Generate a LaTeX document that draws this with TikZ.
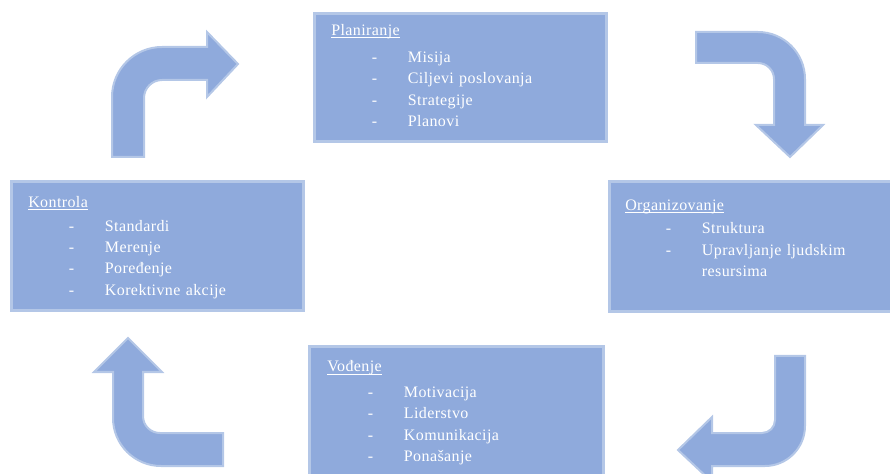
\documentclass[tikz,border=0pt]{standalone}
\usepackage{fontspec}
\setmainfont[LetterSpace=2.5]{Liberation Serif}

\definecolor{plava}{HTML}{8FAADC}
\definecolor{svetloplava}{HTML}{B4C7E7}

\newcommand{\stavka}[1]{\hspace*{30.5pt}\makebox[27pt][l]{-}#1}
\newcommand{\naslov}[1]{\underline{\smash{#1}}}

\def\strelicagore{(112,157) -- (112,97) .. controls (112,69.4) and (134.4,47) .. (162,47) -- (207,47) -- (207,32) -- (238,64) -- (207,97) -- (207,80) -- (162,80) .. controls (152.1,80) and (144,88.1) .. (144,98) -- (144,157) -- cycle}
\def\strelicadesno{(696,32) -- (758,32) .. controls (783.9,32) and (805,53.1) .. (805,79) -- (805,125) -- (823,125) -- (790,157) -- (756,125) -- (774,125) -- (774,79) .. controls (774,70.2) and (766.8,63) .. (758,63) -- (696,63) -- cycle}
\def\strelicadole{(775,356) -- (805,356) -- (805,426) .. controls (805,448) and (787,466) .. (765,466) -- (712,466) -- (712,482) -- (678,450) -- (712,417) -- (712,433) -- (762,433) .. controls (769.2,433) and (775,427.2) .. (775,420) -- cycle}
\def\strelicalevo{(223,433) -- (160,433) .. controls (150.6,433) and (143,425.6) .. (143,416) -- (143,372) -- (162,372) -- (128,338) -- (94,372) -- (113,372) -- (113,418) .. controls (113,444.5) and (134.5,466) .. (161,466) -- (223,466) -- cycle}

\tikzset{
  kutija/.style={draw=svetloplava, fill=plava, line width=2.25pt, inner sep=0pt, outer sep=0pt, anchor=north west},
  tekst/.style={text=white, font=\fontsize{12}{16}\selectfont, text width=210pt, align=left, inner sep=0pt, anchor=base west},
  strelica/.style={draw=svetloplava, fill=plava, line width=1.5pt}
}

\begin{document}
\begin{tikzpicture}[x=0.75pt,y=-0.75pt]
  \useasboundingbox (0,0) rectangle (890,474);
  \clip (0,0) rectangle (890,474);

  % okviri
  \node[kutija, minimum width=219pt, minimum height=96pt] (planiranje) at (314.5,13.5) {};
  \node[kutija, minimum width=218pt, minimum height=97.5pt] (organizovanje) at (609.5,181.5) {};
  \node[kutija, minimum width=219pt, minimum height=96.75pt] (kontrola) at (11.5,181.5) {};
  \node[kutija, minimum width=220.5pt, minimum height=107.6pt] (vodjenje) at (309.5,346.5) {};

  % tekstovi
  \node[tekst] (planiranjetekst) at ([shift={(16.5,22)}]planiranje.north west)
    {\naslov{Planiranje}\\[4.3pt]
     \stavka{Misija}\\
     \stavka{Ciljevi poslovanja}\\
     \stavka{Strategije}\\
     \stavka{Planovi}};
  \node[tekst] (organizovanjetekst) at ([shift={(15.5,29)}]organizovanje.north west)
    {\naslov{Organizovanje}\\[1.5pt]
     \stavka{Struktura}\\
     \stavka{Upravljanje ljudskim}\\
     \hspace*{57.5pt}resursima};
  \node[tekst] (kontrolatekst) at ([shift={(16.5,26)}]kontrola.north west)
    {\naslov{Kontrola}\\[1.8pt]
     \stavka{Standardi}\\
     \stavka{Merenje}\\
     \stavka{Poređenje}\\
     \stavka{Korektivne akcije}};
  \node[tekst] (vodjenjetekst) at ([shift={(17.5,25.5)}]vodjenje.north west)
    {\naslov{Vođenje}\\[3.2pt]
     \stavka{Motivacija}\\
     \stavka{Liderstvo}\\
     \stavka{Komunikacija}\\
     \stavka{Ponašanje}};

  % strelice
  \draw[strelica] \strelicagore;
  \draw[strelica] \strelicadesno;
  \draw[strelica] \strelicadole;
  \draw[strelica] \strelicalevo;
\end{tikzpicture}
\end{document}
